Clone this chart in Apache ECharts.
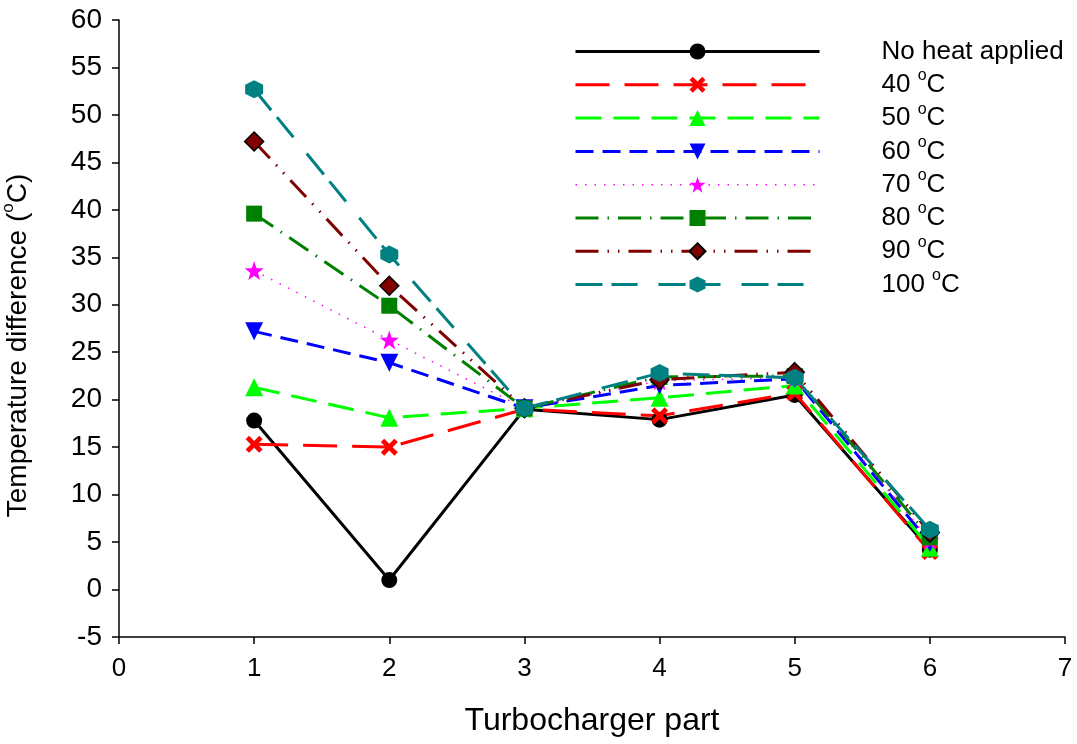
<!DOCTYPE html>
<html>
<head>
<meta charset="utf-8">
<title>Temperature difference per turbocharger part</title>
<script src="https://cdn.jsdelivr.net/npm/echarts@6/dist/echarts.min.js"></script>
<style>
  html, body { margin: 0; padding: 0; background: #fff; }
  #main { width: 1077px; height: 744px; }
</style>
</head>
<body>
<div id="main"></div>
<script>
// turbocharger part number on the x axis
var parts = [1, 2, 3, 4, 5, 6];

// temperature difference (oC) for each heating case
var noHeat = [17.8, 1.0, 19.0, 17.9, 20.5, 4.2];
var t40 = [15.3, 15.0, 19.0, 18.3, 20.7, 4.0];
var t50 = [21.3, 18.1, 19.1, 20.2, 21.5, 4.4];
var t60 = [27.2, 23.9, 19.1, 21.5, 22.2, 4.9];
var t70 = [33.6, 26.3, 19.1, 22.0, 22.3, 5.2];
var t80 = [39.6, 29.9, 19.1, 22.4, 22.5, 5.5];
var t90 = [47.2, 32.0, 19.1, 22.1, 22.9, 6.0];
var t100 = [52.7, 35.3, 19.1, 22.8, 22.3, 6.3];

var seriesNames = ['No heat applied', '40 °C', '50 °C', '60 °C', '70 °C', '80 °C', '90 °C', '100 °C'];

// symbol shapes that echarts does not have built in
var crossPath = 'path://M2,0 L5,3 L8,0 L10,2 L7,5 L10,8 L8,10 L5,7 L2,10 L0,8 L3,5 L0,2 Z';
var starPath = 'path://M5,0 L6.18,3.38 L9.76,3.45 L6.9,5.62 L7.94,9.05 L5,7 L2.06,9.05 L3.1,5.62 L0.24,3.45 L3.82,3.38 Z';
var hexPath = 'path://M5,0 L9.33,2.5 L9.33,7.5 L5,10 L0.67,7.5 L0.67,2.5 Z';

function pairs(ys) {
    return parts.map(function (x, i) { return [x, ys[i]]; });
}

function makeSeries(name, ys, color, dash, width, symbol, size, extra) {
    var s = {
        name: name,
        type: 'line',
        data: pairs(ys),
        symbol: symbol,
        symbolSize: size,
        showAllSymbol: true,
        lineStyle: { color: color, width: width, type: dash, cap: 'butt' },
        itemStyle: { color: color, opacity: 1 },
        emphasis: { disabled: true },
        animation: false
    };
    if (extra) {
        for (var k in extra) s[k] = extra[k];
    }
    return s;
}

// legend line widths follow the series (the dotted one is thin)
var legendItems = seriesNames.map(function (n, i) {
    return { name: n, lineStyle: { width: i === 4 ? 1.5 : 3 } };
});

var chart = echarts.init(document.getElementById('main'));

var option = {
    backgroundColor: '#fff',
    animation: false,
    grid: {
        left: 119,
        right: 12,
        top: 20,
        bottom: 107,
        containLabel: false,
        outerBoundsMode: 'none'
    },
    legend: {
        orient: 'vertical',
        left: 574,
        top: 34.5,
        padding: 0,
        itemWidth: 244,
        itemHeight: 20,
        itemGap: -0.7,
        data: legendItems,
        formatter: function (name) {
            // every row gets the same superscript token so rows have equal height
            if (name.indexOf('°C') < 0) return '{a|' + name + '}{s| }';
            return '{a|' + name.replace(' °C', ' ') + '}{s|o}{a|C}';
        },
        textStyle: {
            padding: [0, 0, 0, 57],
            rich: {
                a: { fontFamily: 'Liberation Sans', fontSize: 26, color: '#000', lineHeight: 24 },
                s: { fontFamily: 'Liberation Sans', fontSize: 16, color: '#000', lineHeight: 6, padding: [0, 0, 18, 0] }
            }
        }
    },
    xAxis: {
        type: 'value',
        min: 0,
        max: 7,
        interval: 1,
        name: 'Turbocharger part',
        nameLocation: 'middle',
        nameGap: 68,
        nameTextStyle: { fontFamily: 'Liberation Sans', fontSize: 32, color: '#000' },
        axisLine: { show: true, onZero: false, lineStyle: { color: '#000', width: 1.5 } },
        axisTick: { show: true, inside: false, length: 7, lineStyle: { color: '#000', width: 1.5 } },
        axisLabel: { margin: 19, fontFamily: 'Liberation Sans', fontSize: 26, color: '#000' },
        splitLine: { show: false }
    },
    yAxis: {
        type: 'value',
        min: -5,
        max: 60,
        interval: 5,
        name: '{a|Temperature difference (}{s|o}{a|C)}',
        nameLocation: 'middle',
        nameGap: 88,
        nameTextStyle: {
            padding: [0, 34, 0, 0],
            rich: {
                a: { fontFamily: 'Liberation Sans', fontSize: 28, color: '#000', lineHeight: 26 },
                s: { fontFamily: 'Liberation Sans', fontSize: 17, color: '#000', lineHeight: 6, padding: [0, 0, 20, 0] }
            }
        },
        axisLine: { show: true, onZero: false, lineStyle: { color: '#000', width: 1.5 } },
        axisTick: { show: true, inside: false, length: 7, lineStyle: { color: '#000', width: 1.5 } },
        axisLabel: { margin: 17, fontFamily: 'Liberation Sans', fontSize: 28, color: '#000' },
        splitLine: { show: false }
    },
    series: [
        makeSeries(seriesNames[0], noHeat, '#000000', 'solid', 3, 'circle', 16),
        makeSeries(seriesNames[1], t40, '#ff0000', [34, 15], 3, crossPath, 17),
        makeSeries(seriesNames[2], t50, '#00ff00', [26, 12], 3, 'triangle', 18),
        makeSeries(seriesNames[3], t60, '#0000ff', [18, 9], 3, 'triangle', 18, { symbolRotate: 180 }),
        makeSeries(seriesNames[4], t70, '#ff00ff', [1.5, 8], 1.5, starPath, 19),
        makeSeries(seriesNames[5], t80, '#008000', [23, 9, 1.5, 9], 3, 'rect', 16),
        makeSeries(seriesNames[6], t90, '#800000', [23, 9, 1.5, 9, 1.5, 9], 3, 'diamond', 19,
            { itemStyle: { color: '#800000', borderColor: '#000', borderWidth: 1.5, opacity: 1 } }),
        makeSeries(seriesNames[7], t100, '#008080', [27, 9, 26, 21], 3, hexPath, 18)
    ]
};

chart.setOption(option);
</script>
</body>
</html>
